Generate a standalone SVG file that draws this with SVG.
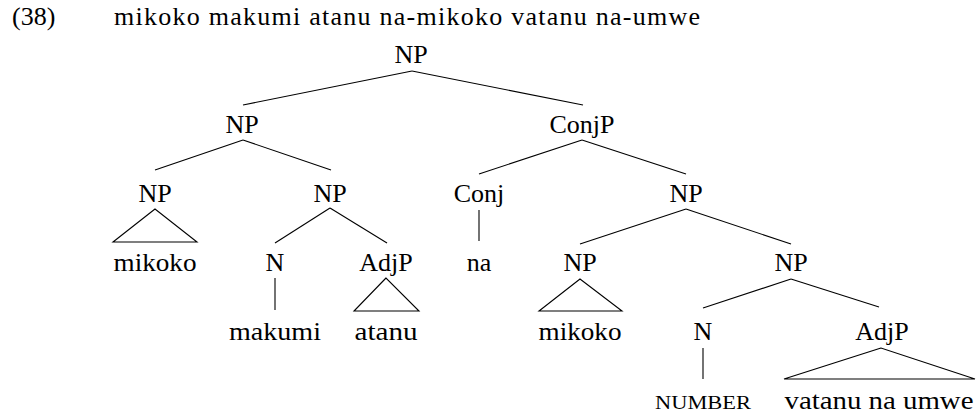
<svg xmlns="http://www.w3.org/2000/svg" width="978" height="414" viewBox="0 0 978 414">
<style>
text{font-family:'Liberation Serif','Times New Roman',Times,Tinos,'DejaVu Serif','Noto Serif',FreeSerif,serif;font-size:26px;fill:#000;text-anchor:middle}
.title{text-anchor:start}
.sc{font-size:19px}
.edge{stroke:#000;stroke-width:1.1;fill:none}
</style>
<rect width="978" height="414" fill="#fff"/>
<g id="title">
<text class="title" x="12" y="25">(38)</text>
<text class="title" x="114" y="25" textLength="586">mikoko makumi atanu na-mikoko vatanu na-umwe</text>
</g>
<g id="connectors" class="edge">
<line x1="412" y1="71" x2="243" y2="105"/>
<line x1="412" y1="71" x2="583" y2="105"/>
<line x1="243" y1="140" x2="155" y2="170"/>
<line x1="243" y1="140" x2="331" y2="170"/>
<line x1="582" y1="140" x2="479" y2="174"/>
<line x1="582" y1="140" x2="686" y2="174"/>
<polygon points="155,209 113,242 197,242"/>
<line x1="330" y1="208" x2="275" y2="243"/>
<line x1="330" y1="208" x2="387" y2="243"/>
<line x1="479" y1="210" x2="479" y2="241"/>
<line x1="686" y1="209" x2="580" y2="244"/>
<line x1="686" y1="209" x2="791" y2="244"/>
<line x1="275" y1="278" x2="275" y2="310"/>
<polygon points="386,278 354,311 419,311"/>
<polygon points="580,279 539,311 622,311"/>
<line x1="791" y1="279" x2="703" y2="308"/>
<line x1="791" y1="279" x2="879" y2="307"/>
<line x1="703" y1="348" x2="703" y2="379"/>
<polygon points="881,348 784,379 975,379"/>
</g>
<g id="np-root"><text x="411" y="63">NP</text></g>
<g id="np-left"><text x="242" y="133">NP</text></g>
<g id="conjp"><text x="582" y="133">ConjP</text></g>
<g id="np-mikoko1"><text x="155" y="202">NP</text></g>
<g id="np-makumi"><text x="330" y="202">NP</text></g>
<g id="conj"><text x="479" y="202">Conj</text></g>
<g id="np-right"><text x="686" y="202">NP</text></g>
<g id="leaf-mikoko1"><text x="155" y="271" textLength="83" lengthAdjust="spacingAndGlyphs">mikoko</text></g>
<g id="n-makumi"><text x="275" y="271">N</text></g>
<g id="adjp-atanu"><text x="386" y="271">AdjP</text></g>
<g id="leaf-na"><text x="479" y="271">na</text></g>
<g id="np-mikoko2"><text x="580" y="271">NP</text></g>
<g id="np-inner"><text x="791" y="271">NP</text></g>
<g id="leaf-makumi"><text x="275" y="340" textLength="92" lengthAdjust="spacingAndGlyphs">makumi</text></g>
<g id="leaf-atanu"><text x="386" y="340" textLength="63" lengthAdjust="spacingAndGlyphs">atanu</text></g>
<g id="leaf-mikoko2"><text x="580" y="340" textLength="83" lengthAdjust="spacingAndGlyphs">mikoko</text></g>
<g id="n-number"><text x="703" y="340">N</text></g>
<g id="adjp-vatanu"><text x="882" y="340">AdjP</text></g>
<g id="leaf-number"><text class="sc" x="703" y="409" textLength="96" lengthAdjust="spacingAndGlyphs">NUMBER</text></g>
<g id="leaf-vatanu"><text x="879" y="409" textLength="189" lengthAdjust="spacingAndGlyphs">vatanu na umwe</text></g>
</svg>
